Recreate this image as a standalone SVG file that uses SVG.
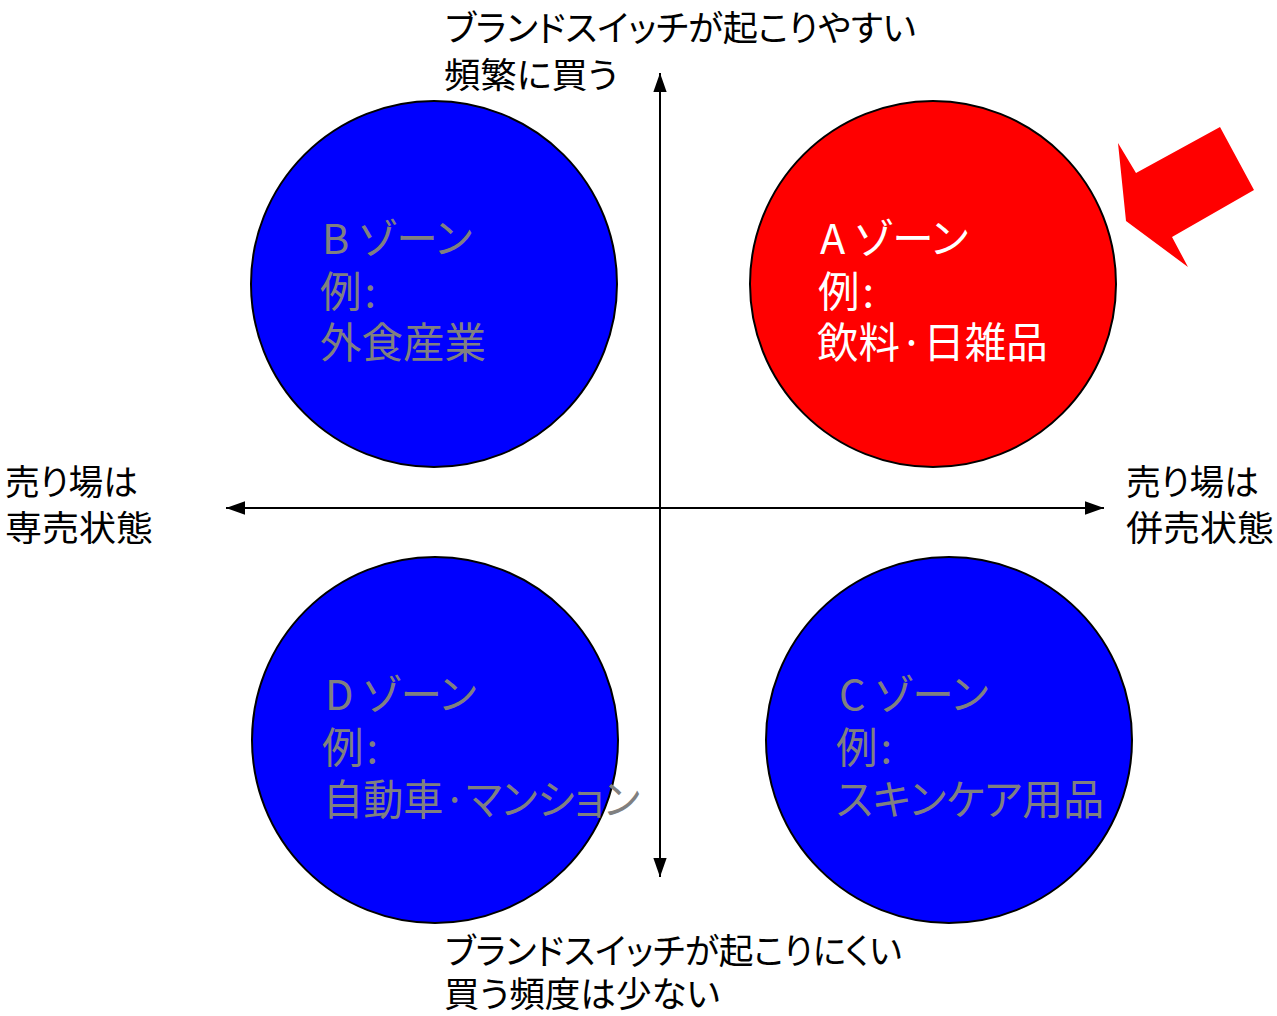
<svg xmlns="http://www.w3.org/2000/svg" width="1277" height="1016" viewBox="0 0 1277 1016">
<defs>
<style>
text{font-family:"Noto Sans CJK JP","Noto Sans",sans-serif;font-feature-settings:"palt";}
.lbl{font-size:35.5px;fill:#000;}
.zone{font-size:41.5px;}
.gray{fill:#808080;}
.white{fill:#fff;}
.circ{stroke:#000;stroke-width:2;}
.axis{stroke:#000;stroke-width:2;fill:none;}
</style>
<marker id="ahb" viewBox="0 0 10 10" refX="10" refY="5" markerWidth="19" markerHeight="19" markerUnits="userSpaceOnUse" orient="auto-start-reverse">
<path d="M0,1.5 L10,5 L0,8.5 z" fill="#000"/>
</marker>
</defs>
<rect width="1277" height="1016" fill="#fff"/>

<g id="zoneB">
<circle class="circ" cx="434" cy="284" r="183" fill="#0000FF"/>
<text class="zone gray" x="322" y="254">B ゾーン</text>
<text class="zone gray" x="320" y="307" textLength="56" lengthAdjust="spacing">例:</text>
<text class="zone gray" x="320" y="358">外食産業</text>
</g>

<g id="zoneA">
<circle class="circ" cx="933" cy="284" r="183" fill="#FF0000"/>
<text class="zone white" x="820" y="254">A ゾーン</text>
<text class="zone white" x="818" y="307" textLength="56" lengthAdjust="spacing">例:</text>
<text class="zone white" x="817" y="358">飲料·日雑品</text>
</g>

<g id="zoneD">
<circle class="circ" cx="435" cy="740" r="183" fill="#0000FF"/>
<text class="zone gray" x="325" y="710">D ゾーン</text>
<text class="zone gray" x="322" y="763" textLength="56" lengthAdjust="spacing">例:</text>
<text class="zone gray" x="323" y="815" textLength="317" lengthAdjust="spacingAndGlyphs">自動車·マンション</text>
</g>

<g id="zoneC">
<circle class="circ" cx="949" cy="740" r="183" fill="#0000FF"/>
<text class="zone gray" x="839" y="710">C ゾーン</text>
<text class="zone gray" x="836" y="763" textLength="56" lengthAdjust="spacing">例:</text>
<text class="zone gray" x="836" y="815" textLength="268" lengthAdjust="spacingAndGlyphs">スキンケア用品</text>
</g>

<g id="connectors">
<line class="axis" x1="660" y1="877" x2="660" y2="73" marker-start="url(#ahb)" marker-end="url(#ahb)"/>
<line class="axis" x1="226" y1="508" x2="1104" y2="508" marker-start="url(#ahb)" marker-end="url(#ahb)"/>
</g>

<g id="pointer">
<polygon points="1118,143 1136,173 1220,127 1254,190 1172,237 1188,267 1126,221" fill="#FF0000"/>
</g>

<g id="labelTop">
<text class="lbl" x="445" y="41" textLength="471" lengthAdjust="spacingAndGlyphs">ブランドスイッチが起こりやすい</text>
<text class="lbl" x="444" y="88" textLength="174" lengthAdjust="spacingAndGlyphs">頻繁に買う</text>
</g>
<g id="labelBottom">
<text class="lbl" x="445" y="964" textLength="457" lengthAdjust="spacingAndGlyphs">ブランドスイッチが起こりにくい</text>
<text class="lbl" x="444" y="1007" textLength="276" lengthAdjust="spacingAndGlyphs">買う頻度は少ない</text>
</g>
<g id="labelLeft">
<text class="lbl" x="5" y="495" textLength="133" lengthAdjust="spacingAndGlyphs">売り場は</text>
<text class="lbl" x="5" y="541" textLength="148" lengthAdjust="spacingAndGlyphs">専売状態</text>
</g>
<g id="labelRight">
<text class="lbl" x="1126" y="495" textLength="133" lengthAdjust="spacingAndGlyphs">売り場は</text>
<text class="lbl" x="1126" y="541" textLength="148" lengthAdjust="spacingAndGlyphs">併売状態</text>
</g>
</svg>
